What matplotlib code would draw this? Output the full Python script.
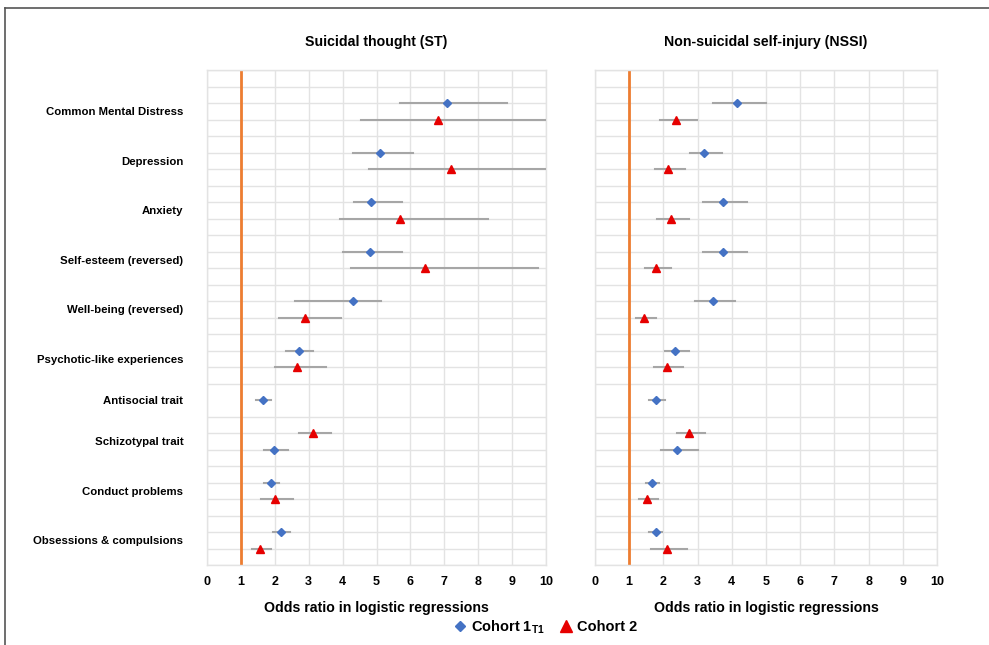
import numpy as np
import matplotlib
matplotlib.use("Agg")
import matplotlib.pyplot as plt
from matplotlib.lines import Line2D

plt.rcParams['font.family'] = ['Liberation Sans', 'DejaVu Sans']
plt.rcParams['mathtext.fontset'] = 'custom'
plt.rcParams['mathtext.rm'] = 'Liberation Sans:bold'

# outcome measures, top to bottom
categories = ['Common Mental Distress', 'Depression', 'Anxiety',
              'Self-esteem (reversed)', 'Well-being (reversed)',
              'Psychotic-like experiences', 'Antisocial trait',
              'Schizotypal trait', 'Conduct problems',
              'Obsessions & compulsions']

# row positions on the plot (0 = top row)
label_rows = [2.5, 5.5, 8.5, 11.5, 14.5, 17.5, 20, 22.5, 25.5, 28.5]
c1_rows = [2, 5, 8, 11, 14, 17, 20, 23, 25, 28]
c2_rows = [3, 6, 9, 12, 15, 18, None, 22, 26, 29]

# Suicidal thought (ST): odds ratio, lower CI, upper CI
st_c1_or = [7.07, 5.11, 4.83, 4.82, 4.30, 2.70, 1.65, 1.99, 1.88, 2.18]
st_c1_lo = [5.68, 4.30, 4.35, 4.02, 2.60, 2.33, 1.45, 1.67, 1.67, 1.95]
st_c1_hi = [8.84, 6.07, 5.76, 5.76, 5.14, 3.14, 1.89, 2.38, 2.12, 2.46]
st_c2_or = [6.80, 7.19, 5.70, 6.43, 2.90, 2.66, None, 3.14, 2.01, 1.57]
st_c2_lo = [4.53, 4.79, 3.91, 4.25, 2.13, 2.01, None, 2.72, 1.60, 1.33]
st_c2_hi = [10.4, 10.6, 8.30, 9.75, 3.95, 3.52, None, 3.65, 2.54, 1.89]

# Non-suicidal self-injury (NSSI)
nssi_c1_or = [4.15, 3.20, 3.75, 3.75, 3.44, 2.35, 1.79, 2.41, 1.66, 1.77]
nssi_c1_lo = [3.44, 2.78, 3.17, 3.17, 2.91, 2.04, 1.57, 1.93, 1.49, 1.59]
nssi_c1_hi = [5.00, 3.72, 4.44, 4.44, 4.08, 2.74, 2.05, 3.00, 1.86, 1.97]
nssi_c2_or = [2.37, 2.14, 2.23, 1.79, 1.43, 2.11, None, 2.76, 1.53, 2.11]
nssi_c2_lo = [1.90, 1.74, 1.82, 1.46, 1.19, 1.73, None, 2.40, 1.30, 1.65]
nssi_c2_hi = [2.98, 2.64, 2.76, 2.21, 1.77, 2.58, None, 3.21, 1.84, 2.70]

x_ticks = list(range(0, 11))

W, H = 989, 645
fig = plt.figure(figsize=(W / 100, H / 100), dpi=100)

BLUE = '#4472C4'
RED = '#E60000'
GREY = '#A6A6A6'
GRID = '#E3E3E3'
ORANGE = '#ED7D31'


def add_axes(x0, x1, y0, y1):
    return fig.add_axes([x0 / W, 1 - y1 / H, (x1 - x0) / W, (y1 - y0) / H])


def draw_series(ax, rows, ors, los, his, marker, color, ms):
    for r, o, lo, hi in zip(rows, ors, los, his):
        if r is None or o is None:
            continue
        ax.plot([lo, hi], [r, r], color=GREY, lw=1.5, zorder=3, clip_on=True)
        ax.plot(o, r, marker=marker, color=color, ms=ms, ls='none', zorder=4)


def style_panel(ax, title, show_labels):
    ax.set_xlim(0, 10)
    ax.set_ylim(30, 0)
    ax.set_xticks(x_ticks)
    ax.set_xticklabels([str(t) for t in x_ticks], fontweight='bold', fontsize=9)
    ax.set_yticks(np.arange(0, 31), minor=True)
    ax.set_yticks(label_rows)
    if show_labels:
        ax.set_yticklabels(categories, fontweight='bold', fontsize=8.2, ha='right')
    else:
        ax.set_yticklabels([])
    ax.tick_params(axis='both', which='both', length=0)
    ax.tick_params(axis='x', pad=8)
    ax.tick_params(axis='y', pad=17)
    ax.grid(False)
    ax.grid(True, axis='x', which='major', color=GRID, lw=1)
    ax.grid(True, axis='y', which='minor', color=GRID, lw=1)
    for s in ax.spines.values():
        s.set_color(GRID)
        s.set_linewidth(1)
    ax.set_axisbelow(True)
    ax.axvline(1, color=ORANGE, lw=2, zorder=2)
    ax.set_title(title, fontweight='bold', fontsize=10.2, pad=17)
    ax.set_xlabel('Odds ratio in logistic regressions', fontweight='bold', fontsize=10.2,
                  labelpad=9)


ax1 = add_axes(207, 546, 70, 565)
draw_series(ax1, c1_rows, st_c1_or, st_c1_lo, st_c1_hi, 'D', BLUE, 4.5)
draw_series(ax1, c2_rows, st_c2_or, st_c2_lo, st_c2_hi, '^', RED, 6)
style_panel(ax1, 'Suicidal thought (ST)', True)

ax2 = add_axes(595, 937, 70, 565)
draw_series(ax2, c1_rows, nssi_c1_or, nssi_c1_lo, nssi_c1_hi, 'D', BLUE, 4.5)
draw_series(ax2, c2_rows, nssi_c2_or, nssi_c2_lo, nssi_c2_hi, '^', RED, 6)
style_panel(ax2, 'Non-suicidal self-injury (NSSI)', False)

handles = [Line2D([], [], marker='D', color=BLUE, ls='none', ms=5),
           Line2D([], [], marker='^', color=RED, ls='none', ms=8)]
fig.legend(handles, ['Cohort 1$_{\\mathrm{T1}}$', 'Cohort 2'], loc='center',
           bbox_to_anchor=(545 / W, 1 - 627 / H), ncol=2, frameon=False,
           prop={'weight': 'bold', 'size': 10.5}, handletextpad=0.3,
           columnspacing=0.9, handlelength=1.0)

# thin frame around the whole figure
fig.add_artist(Line2D([5 / W, 1], [1 - 8 / H, 1 - 8 / H], color='#555555', lw=1.2,
                      transform=fig.transFigure))
fig.add_artist(Line2D([5 / W, 5 / W], [0, 1 - 8 / H], color='#555555', lw=1.2,
                      transform=fig.transFigure))

fig.savefig('out.png', dpi=100)
